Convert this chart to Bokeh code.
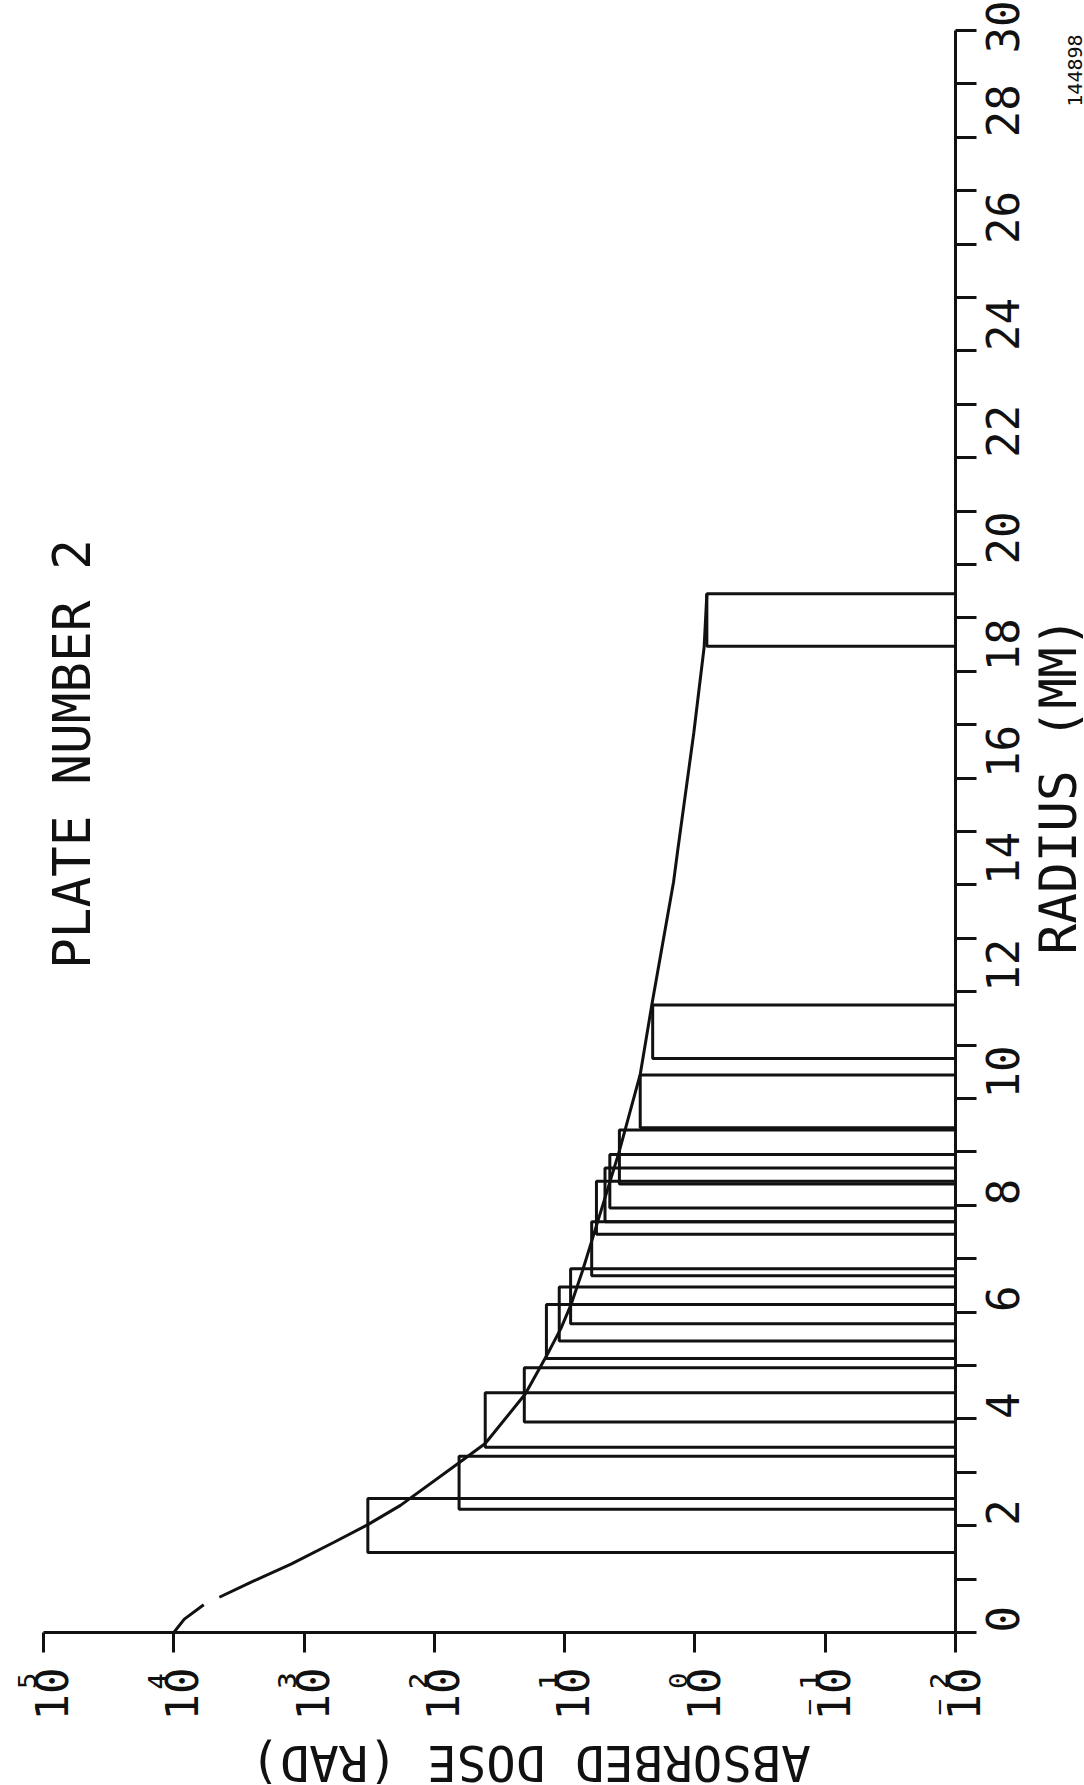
import math
from bokeh.plotting import figure
from bokeh.layouts import row, column
from bokeh.models import Range1d, FixedTicker, Label, CustomJSTickFormatter
from bokeh.embed import file_html
from bokeh.resources import INLINE

# ---- data -------------------------------------------------------------
# histogram-like bars: radius interval [bar_r0, bar_r1] (mm), dose (rad)
bar_r0 = [1.50, 2.31, 3.47, 3.94, 5.13, 5.46, 5.78, 6.68, 7.46, 7.69, 7.95, 8.40, 9.45, 10.75, 18.47]
bar_r1 = [2.51, 3.30, 4.49, 4.96, 6.14, 6.47, 6.81, 7.69, 8.45, 8.70, 8.95, 9.41, 10.44, 11.75, 19.45]
bar_dose = [324.0, 64.6, 40.7, 20.4, 13.8, 11.0, 9.0, 6.2, 5.7, 4.9, 4.5, 3.8, 2.63, 2.11, 0.81]

# smooth calculated curve: radius (mm), dose (rad); nan = pen lift
curve_r = [0.0, 0.25, 0.52, 0.60, 0.66, 0.94, 1.28, 1.69, 2.02, 2.38, 3.18, 3.54,
           4.47, 5.22, 5.69, 6.15, 6.77, 7.33, 8.14, 9.02, 10.45, 11.76, 14.05,
           14.62, 16.85, 18.45, 19.45]
curve_dose = [10000.0, 8300.0, 5890.0, float("nan"), 4470.0, 2570.0, 1260.0, 589.0, 324.0, 182.0, 64.6, 40.7,
              20.0, 13.5, 10.7, 8.9, 7.3, 6.2, 4.9, 3.8, 2.63, 2.14, 1.46,
              1.36, 1.02, 0.85, 0.81]

dose_ticks = [1e-2, 1e-1, 1e0, 1e1, 1e2, 1e3, 1e4, 1e5]
dose_tick_exponents = ["\u207b\u00b2", "\u207b\u00b9", "\u2070", "\u00b9", "\u00b2", "\u00b3", "\u2074", "\u2075"]
dose_tick_base = "10"
radius_major_ticks = [0, 2, 4, 6, 8, 10, 12, 14, 16, 18, 20, 22, 24, 26, 28, 30]
radius_minor_ticks = [1, 3, 5, 7, 9, 11, 13, 15, 17, 19, 21, 23, 25, 27, 29]

title_text = "PLATE NUMBER 2"
x_label = "RADIUS (MM)"
y_label = "ABSORBED DOSE (RAD)"
sheet_id = "144898"

# ---- page geometry ----------------------------------------------------
INK = "#111111"
FONT = "DejaVu Sans Mono"
LW = 3
PAGE_W, PAGE_H = 1084, 1785
MAIN_W, MAIN_H = 1038, 1727          # main plot; right strip and bottom strip hold axis titles
FRAME_R, FRAME_B = 955, 1632

p = figure(width=MAIN_W, height=MAIN_H,
           x_axis_type="log", x_range=Range1d(1e5, 1e-2), y_range=Range1d(0, 30),
           x_axis_location="below", y_axis_location="right",
           output_backend="svg", toolbar_location=None,
           min_border_left=43, min_border_top=30,
           min_border_right=MAIN_W - FRAME_R, min_border_bottom=MAIN_H - FRAME_B)
p.outline_line_color = None
p.xgrid.visible = False
p.ygrid.visible = False
p.background_fill_color = "white"
p.border_fill_color = "white"

# bars
p.quad(left=bar_dose, right=[dose_ticks[0]] * len(bar_dose), bottom=bar_r0, top=bar_r1,
       fill_color=None, line_color=INK, line_width=LW)
# curve
p.line(curve_dose, curve_r, line_color=INK, line_width=LW)

# dose axis (horizontal on the page, log)
xa = p.xaxis[0]
xa.ticker = FixedTicker(ticks=dose_ticks, minor_ticks=[])
xa.formatter = CustomJSTickFormatter(
    args=dict(vals=dose_ticks, exps=dose_tick_exponents, base=dose_tick_base),
    code="""
    let k = 0, best = 1e9;
    for (let i = 0; i < vals.length; i++) {
        const d = Math.abs(Math.log10(vals[i]) - Math.log10(tick));
        if (d < best) { best = d; k = i; }
    }
    return exps[k] + "\\n" + base;
    """)
xa.axis_line_color = INK
xa.axis_line_width = LW
xa.major_tick_line_color = INK
xa.major_tick_line_width = LW
xa.major_tick_in = 0
xa.major_tick_out = 20
xa.minor_tick_line_color = None
xa.major_label_orientation = math.pi / 2
xa.major_label_text_font = FONT
xa.major_label_text_font_size = "44px"
xa.major_label_text_line_height = 0.36
xa.major_label_text_color = INK
xa.major_label_standoff = 15

# radius axis (vertical on the page)
ya = p.yaxis[0]
ya.ticker = FixedTicker(ticks=radius_major_ticks, minor_ticks=radius_minor_ticks)
ya.axis_line_color = INK
ya.axis_line_width = LW
ya.major_tick_line_color = INK
ya.major_tick_line_width = LW
ya.major_tick_in = 0
ya.major_tick_out = 21
ya.minor_tick_line_color = INK
ya.minor_tick_line_width = LW
ya.minor_tick_in = 0
ya.minor_tick_out = 21
ya.major_label_orientation = math.pi / 2
ya.major_label_text_font = FONT
ya.major_label_text_font_size = "44px"
ya.major_label_text_color = INK
ya.major_label_standoff = 26

# title written inside the plotting area
p.add_layout(Label(x=10 ** 4.78, y=16.45, text=title_text, angle=math.pi / 2,
                   text_align="center", text_baseline="middle",
                   text_font=FONT, text_font_size="51px", text_color=INK))


def strip(w, h, y_range=None):
    f = figure(width=w, height=h, x_range=Range1d(0, w),
               y_range=y_range if y_range is not None else Range1d(0, h),
               output_backend="svg", toolbar_location=None,
               x_axis_location=None, y_axis_location=None,
               min_border_left=0, min_border_right=0, min_border_top=0, min_border_bottom=0)
    f.outline_line_color = None
    f.xgrid.visible = False
    f.ygrid.visible = False
    f.background_fill_color = "white"
    f.border_fill_color = "white"
    return f


# right strip (its frame lines up with the main frame): radius axis title + sheet id
right = strip(PAGE_W - MAIN_W, MAIN_H, y_range=p.y_range)
right.add_layout(Label(x=1058 - MAIN_W, y=15.86, text=x_label, angle=math.pi / 2,
                       text_align="center", text_baseline="middle",
                       text_font=FONT, text_font_size="51px", text_color=INK))
right.add_layout(Label(x=1074 - MAIN_W, y=29.25, text=sheet_id, angle=math.pi / 2,
                       text_align="center", text_baseline="middle",
                       text_font=FONT, text_font_size="20px", text_color=INK))

# bottom strip: dose axis title (upside down, as on the sheet)
bottom = strip(PAGE_W, PAGE_H - MAIN_H)
bottom.add_layout(Label(x=530, y=PAGE_H - 1762, text=y_label, angle=math.pi,
                        text_align="center", text_baseline="middle",
                        text_font=FONT, text_font_size="49px", text_color=INK))

layout = column(row(p, right), bottom)
open("out.html", "w").write(file_html(layout, INLINE))
